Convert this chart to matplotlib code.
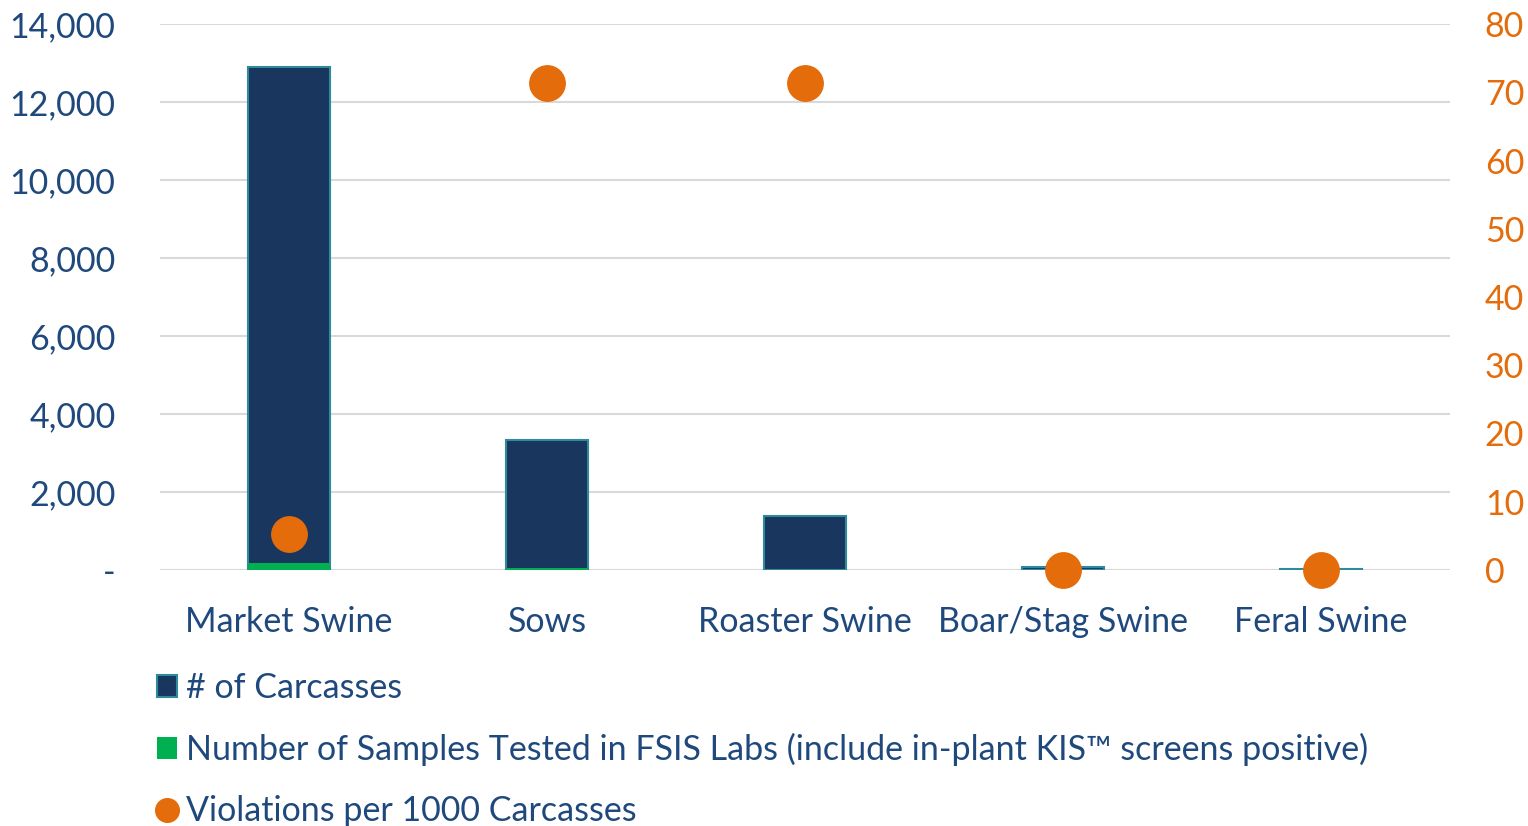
import matplotlib
matplotlib.use("Agg")
import matplotlib.pyplot as plt
from matplotlib.ticker import FuncFormatter
from matplotlib.lines import Line2D
from matplotlib.patches import Patch
import numpy as np

categories = ["Market Swine", "Sows", "Roaster Swine", "Boar/Stag Swine", "Feral Swine"]
carcasses = [12900, 3330, 1390, 70, 15]
samples = [180, 40, 10, 5, 1]
violations = [5.3, 71.4, 71.4, 0, 0]

left_ticks = [0, 2000, 4000, 6000, 8000, 10000, 12000, 14000]
right_ticks = [0, 10, 20, 30, 40, 50, 60, 70, 80]

navy = "#19375E"
edge = "#2F8A9E"
green = "#00B050"
orange = "#E46C0A"
textblue = "#1F497D"

plt.rcParams['font.family'] = ['Lato', 'DejaVu Sans']
FS = 24.5

fig = plt.figure(figsize=(15.28, 8.26), dpi=100)
ax = fig.add_axes([160/1528, 1-570/826, 1290/1528, 546/826])
ax2 = ax.twinx()

x = np.arange(len(categories))
w = 0.32
ax.bar(x, carcasses, width=w, color=navy, edgecolor=edge, linewidth=1.5, zorder=2)
ax.bar(x, samples, width=w, color=green, edgecolor='none', zorder=3)
ax2.scatter(x, violations, s=650, color=orange, zorder=5, clip_on=False)

ax.set_xlim(-0.5, len(categories)-0.5)
ax.set_ylim(0, 14000)
ax2.set_ylim(0, 80)
ax.set_yticks(left_ticks)
ax2.set_yticks(right_ticks)
ax.yaxis.set_major_formatter(FuncFormatter(lambda v, p: "-" if v == 0 else f"{int(v):,}"))
ax.grid(axis='y', color='#D9D9D9', linewidth=1.5, zorder=0)
ax.set_axisbelow(True)
for a in (ax, ax2):
    for s in a.spines.values():
        s.set_visible(False)
ax.tick_params(axis='y', length=0, labelsize=FS, labelcolor=textblue, pad=32)
ax2.tick_params(axis='y', length=0, labelsize=FS, labelcolor=orange, pad=25)
ax.set_xticks(x)
ax.set_xticklabels(categories)
ax.tick_params(axis='x', length=0, labelsize=FS, labelcolor=textblue, pad=26)

handles = [
    Patch(facecolor=navy, edgecolor=edge, linewidth=1.5),
    Patch(facecolor=green, edgecolor='none'),
    Line2D([], [], marker='o', linestyle='none', markersize=17, color=orange),
]
labels = ["# of Carcasses",
          "Number of Samples Tested in FSIS Labs (include in-plant KIS\u2122 screens positive)",
          "Violations per 1000 Carcasses"]
leg = fig.legend(handles, labels, loc='upper left', bbox_to_anchor=(157/1528, 1-672/826),
                 frameon=False, fontsize=FS, labelcolor=textblue, handlelength=0.6,
                 handleheight=0.6, handletextpad=0.25, labelspacing=0.85, borderaxespad=0,
                 borderpad=0)

fig.savefig("out.png", dpi=100)
